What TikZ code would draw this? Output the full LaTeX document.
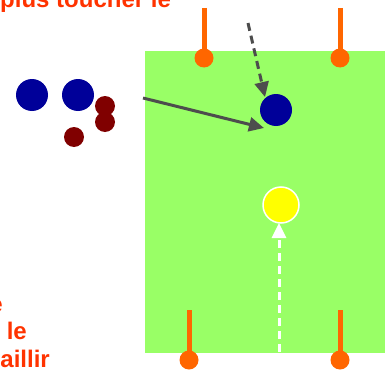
\documentclass[tikz,border=0pt]{standalone}
\usepackage{fontspec}
\setmainfont{Liberation Sans}
\usetikzlibrary{arrows.meta}
\definecolor{chu}{HTML}{FF3300}
\definecolor{coc}{HTML}{FF6600}
\definecolor{san}{HTML}{99FF66}
\definecolor{xanh}{HTML}{000099}
\definecolor{nau}{HTML}{800000}
\definecolor{vang}{HTML}{FFFF00}
\definecolor{muiten}{HTML}{4D4D4D}
\tikzset{
  chuthich/.style={text=chu,inner sep=0pt,font=\bfseries\fontsize{24}{28}\selectfont},
  dauco/.style={circle,fill=coc,inner sep=0pt,minimum size=19pt},
  thancoc/.style={coc,line width=5pt},
  cauthu/.style={circle,fill=xanh,inner sep=0pt,minimum size=32pt},
  doithu/.style={circle,fill=nau,inner sep=0pt,minimum size=20pt},
  bong/.style={circle,fill=vang,draw=white,line width=1.5pt,inner sep=0pt,minimum size=36pt},
  duongchuyen/.style={muiten,line width=3pt,-{Triangle[length=15pt,width=14pt]}}
}
\begin{document}
\begin{tikzpicture}[x=1pt,y=-1pt]
    \useasboundingbox (0,0) rectangle (385,369);
    % Vẽ sân
    \fill[san] (145,51) rectangle (385,353);
    
    % Vẽ cọc
    \foreach \i/\x/\y in {1/204/58, 2/340/58, 3/189/360, 4/340/360}
    {
    \coordinate (dinh\i) at (\x,\y-50);
    \node[dauco] (coc\i) at (\x,\y) {};
    \draw[thancoc] (dinh\i) -- (coc\i.center);
    }
    
    % Cầu thủ và đối thủ
    \node[cauthu] (a1) at (32,95) {};
    \node[cauthu] (a2) at (78,95) {};
    \node[cauthu] (a3) at (276,110) {};
    \node[doithu] (b1) at (105,106) {};
    \node[doithu] (b2) at (105,122) {};
    \node[doithu] (b3) at (74,137) {};
    
    % Bóng
    \node[bong] (qua) at (281,205) {};
    
    % Vẽ mũi tên
    \coordinate (s1) at (143,98);
    \coordinate (e1) at (264,128);
    \coordinate (s2) at (248,23);
    \coordinate (e2) at (265,97);
    \coordinate (s3) at (279,352);
    \coordinate (e3) at (279,223);
    \draw[duongchuyen] (s1) -- (e1);
    \draw[duongchuyen,dash pattern=on 8pt off 5pt] (s2) -- (e2);
    \draw[duongchuyen,white,dash pattern=on 8pt off 5pt] (s3) -- (e3);
    
    % Chú thích
    \node[chuthich,anchor=base west] (t1) at (0,8) {plus toucher le};
    \node[chuthich,anchor=base east] (t2) at (3,312) {e};
    \node[chuthich,anchor=base east] (t3) at (27,339) {s le};
    \node[chuthich,anchor=base east] (t4) at (50,367) {aillir};
\end{tikzpicture}
\end{document}
